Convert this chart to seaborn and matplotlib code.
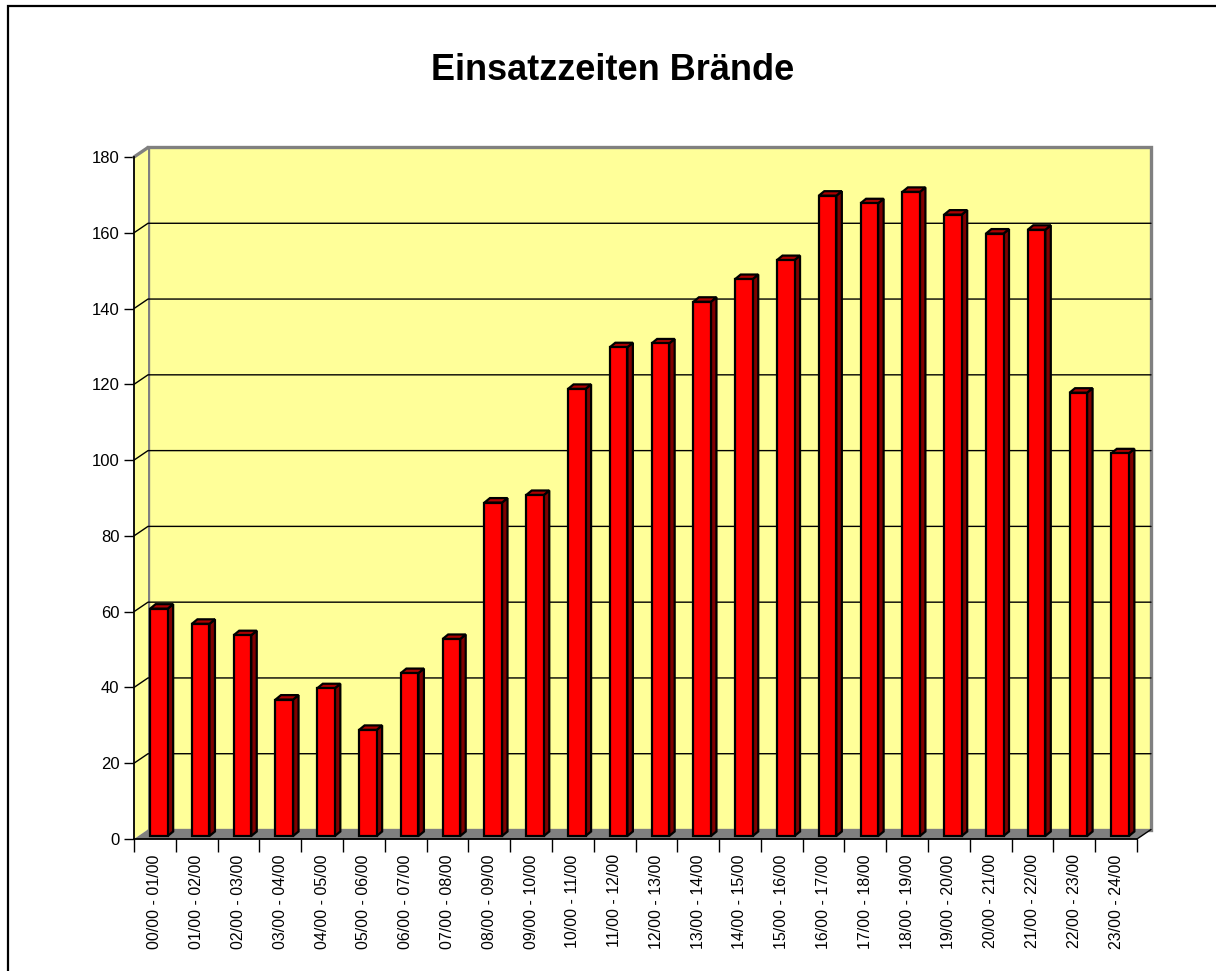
import matplotlib
matplotlib.use("Agg")
import matplotlib.pyplot as plt
import matplotlib.transforms as mtransforms
from matplotlib.patches import Polygon, Rectangle
import numpy as np
import pandas as pd
import seaborn as sns

# ------------------------------------------------------------
# Data
# ------------------------------------------------------------
slots = [
    "00/00 - 01/00", "01/00 - 02/00", "02/00 - 03/00", "03/00 - 04/00",
    "04/00 - 05/00", "05/00 - 06/00", "06/00 - 07/00", "07/00 - 08/00",
    "08/00 - 09/00", "09/00 - 10/00", "10/00 - 11/00", "11/00 - 12/00",
    "12/00 - 13/00", "13/00 - 14/00", "14/00 - 15/00", "15/00 - 16/00",
    "16/00 - 17/00", "17/00 - 18/00", "18/00 - 19/00", "19/00 - 20/00",
    "20/00 - 21/00", "21/00 - 22/00", "22/00 - 23/00", "23/00 - 24/00",
]
counts = [60, 56, 53, 36, 39, 28, 43, 52, 88, 90, 118, 129,
          130, 141, 147, 152, 169, 167, 170, 164, 159, 160, 117, 101]
y_ticks = [0, 20, 40, 60, 80, 100, 120, 140, 160, 180]
title = "Einsatzzeiten Brände"

# ------------------------------------------------------------
# Style
# ------------------------------------------------------------
sns.set_style("white")
plt.rcParams["font.family"] = ["Liberation Sans", "DejaVu Sans"]
plt.rcParams["text.color"] = "black"

W, H = 1216, 971
fig = plt.figure(figsize=(W / 100, H / 100), dpi=100)
ax = fig.add_axes([134 / W, (H - 839) / H, (1137 - 134) / W, (839 - 157) / H])

df = pd.DataFrame({"slot": slots, "count": counts})
sns.barplot(
    data=df, x="slot", y="count", color="#FF0000", saturation=1,
    width=0.42, edgecolor="black", linewidth=1.6, ax=ax, zorder=3,
)
bars = list(ax.patches)

ax.set_xlim(-0.5, len(slots) - 0.5)
ax.set_ylim(y_ticks[0], y_ticks[-1])

# pixel -> data unit helpers for the fake 3D depth
px_x = (1137 - 134) / len(slots)
px_y = (839 - 157) / (y_ticks[-1] - y_ticks[0])
wall_dx, wall_dy = 14 / px_x, 9.5 / px_y
bar_dx, bar_dy = 5.5 / px_x, 4.5 / px_y

x_lo, x_hi = ax.get_xlim()
y_top = y_ticks[-1]

# back wall, left wall, floor
ax.add_patch(Rectangle((x_lo + wall_dx, wall_dy), x_hi - x_lo, y_top,
                       fc="#FFFF99", ec="#808080", lw=2.4, zorder=0.5, clip_on=False))
ax.add_patch(Polygon([(x_lo, 0), (x_lo, y_top), (x_lo + wall_dx, y_top + wall_dy),
                      (x_lo + wall_dx, wall_dy)],
                     fc="#FFFF99", ec="none", zorder=0.6, clip_on=False))
ax.plot([x_lo, x_lo + wall_dx], [y_top, y_top + wall_dy], color="#808080",
        lw=2.4, zorder=0.65, clip_on=False)
ax.add_patch(Polygon([(x_lo, 0), (x_hi, 0), (x_hi + wall_dx, wall_dy),
                      (x_lo + wall_dx, wall_dy)],
                     fc="#808080", ec="none", zorder=0.8, clip_on=False))
ax.plot([x_hi, x_hi + wall_dx], [0, wall_dy], color="black", lw=1,
        zorder=0.85, clip_on=False)

# gridlines on left and back wall
for v in y_ticks[1:-1]:
    ax.plot([x_lo, x_lo + wall_dx, x_hi + wall_dx], [v, v + wall_dy, v + wall_dy],
            color="black", lw=1, zorder=0.7, clip_on=False)

# bars sit slightly back inside the depth
shift = mtransforms.ScaledTranslation(4 / 100, 3 / 100, fig.dpi_scale_trans)
bar_tr = ax.transData + shift
for p in bars:
    p.set_transform(bar_tr)
    p.set_clip_on(False)
    x0, w, h = p.get_x(), p.get_width(), p.get_height()
    x1 = x0 + w
    ax.add_patch(Polygon([(x1, 0), (x1 + bar_dx, bar_dy), (x1 + bar_dx, h + bar_dy), (x1, h)],
                         fc="#800000", ec="black", lw=1.6, transform=bar_tr,
                         zorder=2.9, clip_on=False))
    ax.add_patch(Polygon([(x0, h), (x0 + bar_dx, h + bar_dy), (x1 + bar_dx, h + bar_dy), (x1, h)],
                         fc="#B00000", ec="black", lw=1.6, transform=bar_tr,
                         zorder=2.9, clip_on=False))

# axes
for side in ["top", "right"]:
    ax.spines[side].set_visible(False)
for side in ["left", "bottom"]:
    ax.spines[side].set_color("black")
    ax.spines[side].set_linewidth(1.3)
    ax.spines[side].set_zorder(4)
ax.patch.set_alpha(0)

ax.set_yticks(y_ticks)
ax.tick_params(axis="y", direction="out", length=7.5, width=1, labelsize=12,
               pad=3, left=True, colors="black")
ax.set_xticks(range(len(slots)))
ax.set_xticklabels(slots, rotation=90)
ax.set_xticks(np.arange(-0.5, len(slots), 1), minor=True)
ax.tick_params(axis="x", which="major", length=0, labelsize=11.5, pad=11,
               labelcolor="black")
ax.tick_params(axis="x", which="minor", direction="out", length=9, width=1,
               bottom=True, colors="black")
ax.set_xlabel("")
ax.set_ylabel("")

fig.text(613 / W, 1 - 70 / H, title, ha="center", va="center",
         fontsize=26, fontweight="bold", color="black")

# chart frame (only left and top edge are visible)
fig.add_artist(Rectangle((8 / W, -0.1), 1.0, 1.1 - 6 / H, transform=fig.transFigure,
                         fill=False, ec="black", lw=1.6))

fig.savefig("out.png", dpi=100)
plt.close(fig)
